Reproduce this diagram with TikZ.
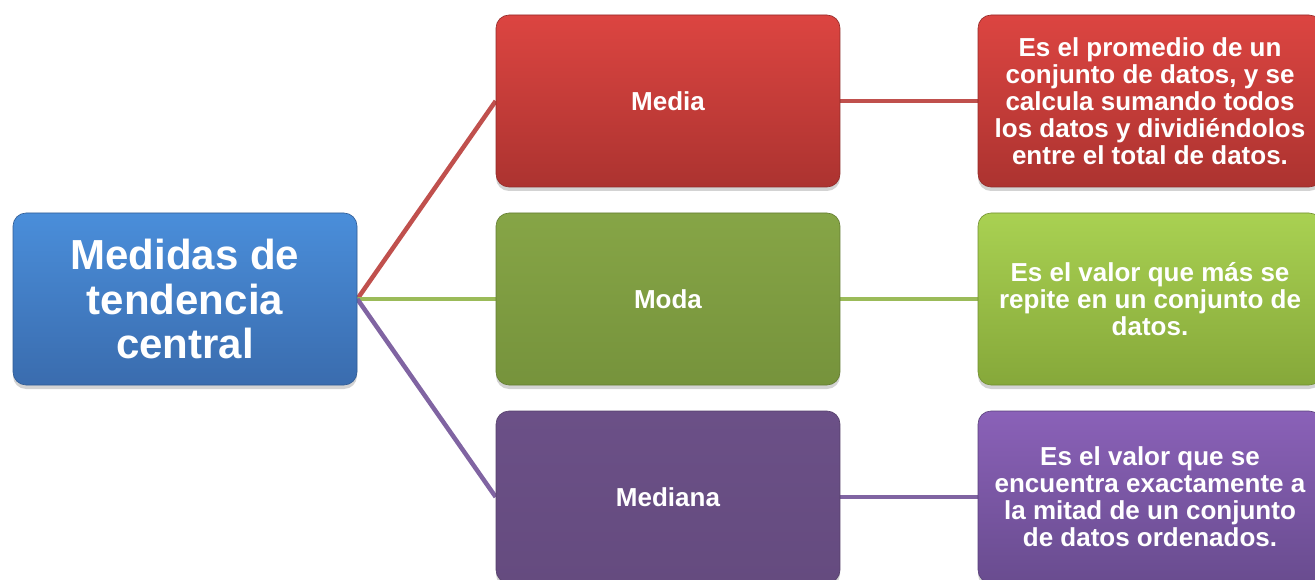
\documentclass[tikz,border=0pt]{standalone}
\usepackage{fontspec}
\setmainfont{Liberation Sans}
\usetikzlibrary{shadows,backgrounds}
\definecolor{bluetop}{HTML}{4A8EDA}
\definecolor{bluebot}{HTML}{3A6CAE}
\definecolor{redtop}{HTML}{DC4541}
\definecolor{redbot}{HTML}{AC3330}
\definecolor{gretop}{HTML}{86A546}
\definecolor{grebot}{HTML}{76933C}
\definecolor{purtop}{HTML}{6B5087}
\definecolor{purbot}{HTML}{654B7F}
\definecolor{lgretop}{HTML}{A9D152}
\definecolor{lgrebot}{HTML}{86A83A}
\definecolor{lpurtop}{HTML}{8A61B8}
\definecolor{lpurbot}{HTML}{694C8F}
\definecolor{lnred}{HTML}{C0504D}
\definecolor{lngreen}{HTML}{9BBB59}
\definecolor{lnpurple}{HTML}{8064A2}
\tikzset{
  boxbase/.style={rounded corners=13pt, minimum width=344pt, minimum height=172pt,
    inner sep=0pt, text=white, align=center, font=\bfseries\fontsize{26}{27}\selectfont,
    drop shadow={opacity=0.35, shadow xshift=0pt, shadow yshift=-4pt}},
  bluebox/.style={boxbase, top color=bluetop, bottom color=bluebot, draw=bluebot!85!black, line width=0.6pt},
  redbox/.style={boxbase, top color=redtop, bottom color=redbot, draw=redbot!85!black, line width=0.6pt},
  greenbox/.style={boxbase, top color=gretop, bottom color=grebot, draw=grebot!85!black, line width=0.6pt},
  purplebox/.style={boxbase, top color=purtop, bottom color=purbot, draw=purbot!85!black, line width=0.6pt},
  lgreenbox/.style={boxbase, top color=lgretop, bottom color=lgrebot, draw=lgrebot!85!black, line width=0.6pt},
  lpurplebox/.style={boxbase, top color=lpurtop, bottom color=lpurbot, draw=lpurbot!85!black, line width=0.6pt},
  link/.style={line width=4.5pt}
}
\begin{document}
\begin{tikzpicture}[x=1pt,y=-1pt]
\useasboundingbox (0,0) rectangle (1315,580);
\clip (0,0) rectangle (1315,580);
\node[bluebox, font=\bfseries\fontsize{42}{44.5}\selectfont] (root) at (185,299) {Medidas de\\tendencia\\central};
\node[redbox] (media) at (668,101) {Media};
\node[greenbox] (moda) at (668,299) {Moda};
\node[purplebox] (mediana) at (668,497) {Mediana};
\node[redbox] (dmedia) at (1150,101) {Es el promedio de un\\conjunto de datos, y se\\calcula sumando todos\\los datos y dividiéndolos\\entre el total de datos.};
\node[lgreenbox] (dmoda) at (1150,299) {Es el valor que más se\\repite en un conjunto de\\datos.};
\node[lpurplebox] (dmediana) at (1150,497) {Es el valor que se\\encuentra exactamente a\\la mitad de un conjunto\\de datos ordenados.};
\begin{scope}[on background layer]
\draw[link, lnred] (root.east) -- (media.west);
\draw[link, lngreen] (root.east) -- (moda.west);
\draw[link, lnpurple] (root.east) -- (mediana.west);
\draw[link, lnred] (media.east) -- (dmedia.west);
\draw[link, lngreen] (moda.east) -- (dmoda.west);
\draw[link, lnpurple] (mediana.east) -- (dmediana.west);
\end{scope}
\end{tikzpicture}
\end{document}
